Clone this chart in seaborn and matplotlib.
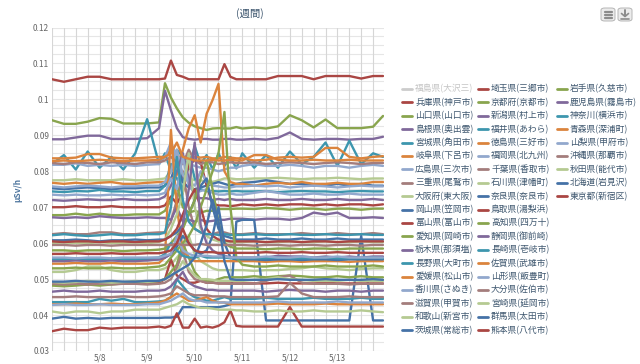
import matplotlib
matplotlib.use("Agg")
import matplotlib.pyplot as plt
import seaborn as sns
import pandas as pd
from matplotlib.lines import Line2D
from matplotlib.patches import FancyBboxPatch

# ---------------- data (values in units of 0.001 uSv/h) ----------------
hours = [0, 6, 12, 18, 24, 30, 36, 42, 48, 54,
         57, 60, 63, 66, 69, 72, 75, 78, 81, 84, 87, 90, 93,
         96, 102, 108, 114, 120, 126, 132, 138, 144, 150, 156, 162, 167]  # hours since 5/7 00:00
day_ticks = [24, 48, 72, 96, 120, 144]
day_labels = ["5/8", "5/9", "5/10", "5/11", "5/12", "5/13"]
y_ticks = [0.03, 0.04, 0.05, 0.06, 0.07, 0.08, 0.09, 0.10, 0.11, 0.12]
y_labels = ["0.03", "0.04", "0.05", "0.06", "0.07", "0.08", "0.09", "0.1", "0.11", "0.12"]

names = ["福島県(大沢三)", "兵庫県(神戸市)", "山口県(山口市)", "島根県(奥出雲)", "宮城県(角田市)",
         "岐阜県(下呂市)", "広島県(三次市)", "三重県(尾鷲市)", "大阪府(東大阪)", "岡山県(笠岡市)",
         "富山県(富山市)", "愛知県(岡崎市)", "栃木県(那須塩)", "長野県(大町市)", "愛媛県(松山市)",
         "香川県(さぬき)", "滋賀県(甲賀市)", "和歌山(新宮市)", "茨城県(常総市)",
         "埼玉県(三郷市)", "京都府(京都市)", "新潟県(村上市)", "福井県(あわら)", "徳島県(三好市)",
         "福岡県(北九州)", "千葉県(香取市)", "石川県(津幡町)", "奈良県(奈良市)", "鳥取県(湯梨浜)",
         "高知県(四万十)", "静岡県(御前崎)", "長崎県(壱岐市)", "佐賀県(武雄市)", "山形県(飯豊町)",
         "大分県(佐伯市)", "宮崎県(延岡市)", "群馬県(太田市)", "熊本県(八代市)",
         "岩手県(久慈市)", "鹿児島県(霧島市)", "神奈川(横浜市)", "青森県(深浦町)", "山梨県(甲府市)",
         "沖縄県(那覇市)", "秋田県(能代市)", "北海道(岩見沢)", "東京都(新宿区)"]
hidden_series = ["福島県(大沢三)"]

fukushima = []
hyogo = [105.6,104.9,105.6,106.3,106.3,105.6,105.6,105.6,105.6,105.6, 105.8,110.8,106.8,106.3,105.6,105.6,105.6,105.6,105.6,105.6,109.8,106.3,105.6, 105.6,105.6,105.6,106.5,106.5,106.5,105.6,106.5,106.5,106.5,105.8,106.5,106.5]
yamaguchi = [94.2,93.2,93.2,93.8,94.8,94.6,93.3,93.3,93.3,93.6, 104.5,100.5,97.5,95.0,93.5,92.5,92.0,91.5,91.9,92.0,91.9,91.9,92.3, 91.9,92.2,91.9,92.5,95.6,94.2,92.2,94.4,92.0,92.0,92.0,92.4,95.4]
shimane = [88.9,88.9,89.4,89.9,89.9,89.0,89.0,89.0,89.2,92.0, 102.4,97.0,92.0,89.5,89.0,88.8,89.0,89.0,88.8,88.8,89.0,89.0,88.8, 88.8,89.0,88.8,89.3,90.8,89.0,88.8,89.0,89.0,88.8,89.0,89.0,89.6]
miyagi = [82.0,84.5,80.5,85.5,81.0,84.0,80.5,85.0,94.5,82.0, 85.0,80.0,86.0,84.0,80.5,87.0,82.0,84.5,80.5,85.0,81.5,84.0,80.8, 85.0,81.0,84.5,81.0,85.5,82.0,84.0,88.0,81.5,88.5,82.0,85.0,84.0]
gifu = [83.6,83.6,83.8,84.8,84.8,83.8,83.6,83.6,83.8,84.0, 84.0,86.0,84.5,83.5,83.6,84.0,83.8,84.0,83.6,83.6,84.0,83.8,83.6, 83.6,83.0,83.2,83.8,84.0,83.8,84.0,86.5,86.5,84.0,83.6,84.0,84.2]
hiroshima = [81.8,81.8,82.2,81.5,81.8,81.5,81.8,81.5,81.8,82.0, 84.0,88.0,84.0,82.5,82.0,81.5,81.0,81.0,80.5,80.0,80.5,81.0,81.0, 81.5,82.0,81.5,81.5,81.8,81.5,81.0,81.5,81.5,81.0,81.5,81.8,81.5]
mie = [62.5,62.8,62.5,62.5,63.0,63.0,62.5,62.5,62.8,63.0, 63.0,66.0,72.0,80.0,70.0,64.0,63.0,62.5,62.5,63.0,63.0,62.5,62.5, 62.5,62.8,62.5,62.5,62.5,62.8,62.5,62.5,62.8,62.5,62.5,62.8,62.5]
osaka = [77.5,77.5,77.8,77.5,77.5,77.5,77.8,77.5,77.5,77.8, 78.0,80.0,84.0,79.0,78.0,77.5,77.5,77.0,77.0,77.5,78.0,78.0,77.8, 77.8,78.0,78.0,78.2,78.0,77.8,78.0,78.0,78.2,78.0,77.8,78.0,78.0]
okayama = [75.3,75.0,75.3,75.5,75.3,75.0,75.3,75.3,75.5,75.5, 76.0,78.0,82.0,77.0,75.5,75.0,75.5,76.0,76.5,77.0,76.5,76.0,76.5, 76.8,77.0,77.5,77.0,76.5,76.5,76.0,76.0,76.5,76.0,76.5,76.0,76.0]
toyama = [70.0,70.0,70.3,70.0,70.0,70.3,70.0,70.0,70.0,70.0, 70.5,73.0,71.0,74.0,82.0,83.0,82.5,76.0,71.0,70.5,70.5,70.3,70.5, 70.8,70.5,70.8,70.5,70.8,70.8,70.5,70.8,70.5,70.8,70.8,70.5,70.8]
aichi = [67.8,67.8,68.2,67.8,68.2,67.8,67.8,68.0,68.0,68.0, 69.0,72.0,76.0,70.0,68.5,69.0,68.5,69.0,69.0,69.5,69.5,69.5,69.6, 69.6,69.5,69.8,69.6,69.3,69.6,69.6,69.3,69.6,69.6,69.3,69.6,69.6]
tochigi = [67.2,67.0,67.2,67.0,67.5,67.2,67.0,67.0,67.2,67.0, 67.0,66.5,70.0,66.0,66.5,66.0,66.5,66.0,66.2,66.5,66.5,66.8,66.8, 66.8,66.5,66.8,66.8,66.5,67.0,68.5,68.0,68.5,67.0,67.0,67.2,67.0]
nagano = [74.4,74.2,74.5,74.4,74.8,74.4,74.4,74.2,74.5,74.5, 76.0,82.0,78.0,75.0,85.0,78.0,75.0,74.5,74.5,74.4,74.5,74.4,74.5, 74.4,74.4,74.5,74.2,74.4,74.5,74.4,74.4,74.2,74.4,74.5,74.4,74.4]
ehime = [76.8,76.5,76.8,76.5,76.8,77.0,76.5,76.5,76.8,77.0, 77.0,77.5,79.0,86.0,92.0,95.6,88.0,96.0,99.8,104.3,80.0,77.0,76.5, 76.5,76.0,76.5,76.8,76.5,77.0,76.5,76.5,76.8,76.5,76.5,77.0,77.0]
kagawa = [75.8,75.5,75.8,76.0,75.8,75.5,75.8,75.8,76.0,76.0, 77.0,80.0,86.0,79.0,77.0,76.0,80.0,77.0,76.0,75.8,75.5,75.5,75.8, 75.8,76.0,75.8,76.0,75.5,75.8,76.0,75.8,75.5,75.8,76.0,75.8,75.8]
shiga = [82.3,82.0,82.5,82.3,82.0,82.5,82.3,82.0,82.5,82.5, 83.0,84.0,82.5,82.0,86.0,83.0,82.0,82.5,82.5,82.0,82.3,82.5,82.3, 82.3,82.5,82.0,82.3,82.5,82.3,82.0,82.3,82.5,82.3,82.0,82.3,82.3]
wakayama = [52.0,52.0,52.5,53.5,53.5,52.5,52.0,52.0,52.5,52.5, 53.0,54.0,56.0,58.0,62.0,57.0,55.0,54.0,53.0,52.5,52.5,52.5,52.5, 52.5,52.3,52.5,52.5,52.8,53.0,53.5,53.0,52.8,52.5,52.8,53.0,53.0]
ibaraki = [39.0,39.5,39.0,39.2,39.0,39.2,39.2,39.2,39.2,39.2, 39.3,39.3,39.5,42.2,42.2,42.2,42.2,42.2,42.2,42.2,42.5,43.0,66.0, 66.5,66.5,38.5,38.5,38.5,38.5,38.5,38.5,38.5,38.5,62.0,38.5,38.5]
saitama = [48.5,48.5,48.8,48.5,49.0,49.0,48.8,48.8,49.0,49.0, 50.0,55.5,51.0,50.0,49.0,49.0,49.5,49.0,49.0,48.8,48.8,48.8,48.8, 48.8,48.8,48.8,49.0,48.8,48.8,48.8,49.0,48.8,48.8,48.8,48.8,48.8]
kyoto = [48.2,48.0,48.2,48.5,48.2,48.5,48.8,49.0,49.2,49.5, 50.0,52.0,54.0,60.0,56.0,52.0,50.0,49.5,49.5,50.0,50.5,50.5,50.5, 50.5,50.8,50.5,50.8,51.0,50.8,50.5,50.5,50.8,50.5,50.8,50.5,50.5]
niigata = [72.0,71.8,72.0,72.2,72.0,72.0,72.3,72.0,72.0,72.2, 73.0,76.0,80.0,85.0,78.0,73.0,72.5,72.5,72.0,72.3,72.0,72.3,72.0, 72.0,72.0,72.3,72.0,72.0,72.3,72.0,72.0,72.3,72.0,72.0,72.3,72.0]
fukui = [43.6,43.6,43.6,43.6,44.5,44.0,44.5,43.6,43.6,43.8, 44.0,45.0,50.0,48.0,46.0,45.0,44.5,44.0,44.0,44.5,45.0,44.5,44.5, 44.5,44.5,44.8,44.5,44.5,44.5,44.8,44.5,44.5,44.5,44.8,44.5,44.5]
tokushima = [54.3,54.3,54.5,54.3,54.3,54.5,54.3,54.3,54.3,54.5, 56.0,91.5,70.0,58.0,56.0,55.0,55.0,55.0,55.0,55.0,55.0,55.0,55.0, 55.0,55.0,54.8,55.0,55.0,54.8,55.0,55.0,55.0,54.8,55.0,55.0,55.0]
fukuoka = [73.5,73.3,73.5,73.3,73.3,73.5,73.3,73.5,73.3,73.5, 74.0,78.0,75.0,84.0,76.0,74.0,74.5,75.0,74.0,73.5,73.5,73.8,73.5, 73.5,74.0,74.5,74.0,73.5,73.5,73.8,73.5,73.5,73.8,73.5,73.5,73.5]
chiba = [48.7,48.5,48.7,48.5,48.7,48.5,48.7,48.7,48.5,48.7, 49.0,50.0,53.0,58.0,52.0,50.0,49.5,49.0,49.0,48.8,48.8,48.7,48.7, 48.7,48.7,49.5,50.5,51.0,49.0,48.7,48.7,48.7,48.5,48.7,48.7,48.7]
ishikawa = [60.0,60.2,60.0,60.0,60.3,60.0,60.0,60.2,60.0,60.3, 61.0,64.0,68.0,74.0,85.0,70.0,64.0,62.0,61.0,60.5,60.5,60.3,60.3, 60.3,60.5,60.3,60.3,60.5,60.3,60.3,60.5,60.3,60.3,60.5,60.3,60.3]
nara = [60.8,60.8,61.0,60.8,60.5,60.8,60.8,61.0,60.8,61.0, 61.0,62.0,63.0,65.0,68.0,72.0,76.0,78.0,70.0,64.0,62.0,61.5,61.0, 61.0,61.0,61.3,61.0,61.0,61.3,61.0,61.0,61.3,61.0,61.0,61.0,61.0]
tottori = [60.5,60.3,60.5,60.5,60.3,60.5,60.5,60.3,60.5,60.5, 61.0,62.0,64.0,68.0,72.0,75.0,70.0,64.0,62.0,61.0,60.8,60.5,60.5, 60.5,60.5,60.3,60.5,60.5,60.3,60.5,60.5,60.3,60.5,60.5,60.5,60.5]
kochi = [58.0,58.0,57.8,58.0,58.0,58.0,57.8,58.0,58.0,58.2, 58.5,60.0,62.0,64.0,68.0,72.0,78.0,83.0,75.0,66.0,60.0,59.0,58.5, 58.5,58.5,58.3,58.5,58.5,58.3,58.5,58.5,58.3,58.5,58.5,58.5,58.5]
shizuoka = [46.5,46.8,46.5,46.5,46.8,46.5,46.5,46.5,46.8,46.8, 47.0,48.0,50.0,52.0,49.0,48.0,47.5,47.0,47.0,46.8,46.8,46.8,46.8, 46.8,46.8,46.5,46.8,47.0,46.8,46.8,46.5,46.8,46.8,46.5,46.8,46.8]
nagasaki = [62.2,62.5,62.2,62.0,62.2,62.5,62.2,62.2,62.5,62.5, 63.0,70.0,84.0,72.0,66.0,64.0,63.0,62.5,62.5,62.3,62.5,62.3,62.3, 62.3,62.5,62.3,62.3,62.5,62.3,62.3,62.5,62.3,62.3,62.5,62.3,62.3]
saga = [43.0,43.0,43.2,43.0,43.0,43.2,43.0,43.0,43.2,43.5, 44.0,45.0,46.0,45.0,44.0,44.0,44.5,45.0,44.0,43.5,43.5,43.0,43.0, 43.0,43.0,43.0,43.2,43.0,43.0,43.0,43.2,43.0,43.0,43.0,43.0,43.0]
yamagata = [42.8,43.0,42.8,42.8,43.0,42.8,42.8,42.8,43.0,43.0, 43.5,44.0,45.0,46.0,44.5,44.0,44.0,43.5,43.5,43.5,43.5,43.5,43.5, 43.5,43.5,43.5,43.8,43.5,43.5,43.5,43.5,43.8,43.5,43.5,43.5,43.5]
oita = [45.0,45.0,45.2,45.0,45.0,45.0,45.2,45.0,45.0,45.2, 45.5,46.0,48.0,47.0,46.0,45.5,45.5,45.5,45.2,45.2,45.2,45.0,45.0, 45.0,45.0,45.0,45.2,49.0,46.0,45.0,45.0,45.0,45.2,45.0,45.0,45.0]
miyazaki = [49.2,49.0,49.2,49.5,49.2,49.0,49.2,49.5,49.2,49.5, 50.0,51.0,52.0,55.0,53.0,51.0,50.0,50.0,49.8,49.5,49.5,49.5,49.5, 49.5,49.8,50.0,50.5,50.0,49.8,49.5,49.5,49.5,49.8,49.5,49.5,49.5]
gunma = [55.3,55.3,55.5,55.3,55.3,55.5,55.3,55.5,55.3,55.5, 56.0,57.0,59.0,62.0,60.0,58.0,57.0,58.0,62.0,70.0,60.0,56.0,55.5, 55.5,55.5,55.3,55.5,55.5,55.3,55.5,55.5,55.3,55.5,55.5,55.5,55.5]
kumamoto = [35.5,36.2,35.8,35.8,36.5,36.2,36.5,36.5,36.5,36.8, 36.5,37.0,40.5,36.5,36.5,39.0,36.5,36.8,36.5,37.0,38.0,41.3,37.0, 36.8,36.8,36.8,36.8,42.2,36.8,36.8,36.8,36.8,36.8,36.8,36.8,36.8]
iwate = [53.0,53.0,53.2,53.0,53.0,53.2,53.0,53.0,53.2,53.5, 54.0,56.0,58.0,60.0,62.0,65.0,70.0,75.0,80.0,85.0,96.5,70.0,56.0, 54.0,53.5,53.5,53.8,53.5,53.5,53.5,53.8,53.5,53.5,53.5,53.8,53.5]
kagoshima = [55.0,55.0,55.2,55.0,55.0,55.2,55.0,55.0,55.2,55.5, 56.0,57.0,60.0,65.0,75.0,88.0,65.0,60.0,58.0,57.0,56.5,56.0,56.0, 56.0,56.0,56.0,56.5,56.3,56.3,56.0,56.3,56.0,56.3,56.0,56.3,56.3]
kanagawa = [55.6,55.6,55.8,55.6,55.6,55.8,55.6,55.6,55.8,56.0, 57.0,60.0,58.0,56.5,56.0,56.0,56.5,56.0,56.0,56.0,56.0,55.8,55.8, 55.8,55.8,55.8,56.0,55.8,55.8,55.8,56.0,55.8,55.8,55.8,56.0,55.8]
aomori = [82.8,83.0,82.8,83.0,83.2,83.0,82.8,83.0,83.0,83.2, 84.0,85.0,88.0,84.0,83.5,83.0,83.0,83.0,83.2,83.0,83.0,83.2,83.0, 83.0,84.5,84.5,83.2,83.0,83.0,83.2,83.0,83.0,83.2,83.0,83.0,83.0]
yamanashi = [56.0,56.0,55.8,56.0,56.0,55.8,56.0,56.0,56.0,56.0, 56.5,57.0,62.0,58.0,57.0,56.5,56.5,56.5,56.3,56.3,56.3,56.0,56.0, 56.0,56.0,56.3,56.0,56.0,56.3,56.0,56.0,56.3,56.0,56.0,56.0,56.0]
okinawa = [59.5,59.5,59.3,59.5,59.5,59.3,59.5,59.5,59.5,59.5, 59.5,59.5,59.8,59.5,59.5,59.5,59.8,59.5,59.5,59.5,59.5,59.5,59.5, 59.5,59.3,59.5,59.5,59.3,59.5,59.5,59.3,59.5,59.5,59.3,59.5,59.5]
akita = [41.0,40.5,41.0,41.0,40.5,41.0,41.0,41.5,41.5,41.5, 42.0,42.5,43.0,44.0,43.0,42.5,42.0,42.0,41.8,41.5,41.5,41.5,41.3, 41.3,41.0,41.0,41.3,41.0,41.0,41.3,41.0,41.0,41.0,41.3,41.0,40.8]
hokkaido = [49.3,49.3,49.5,49.3,49.3,49.5,49.3,49.3,49.5,49.5, 50.0,51.0,52.0,53.0,54.0,56.0,60.0,65.0,72.0,66.0,55.0,50.0,49.8, 49.8,49.8,49.8,50.0,49.8,49.8,49.8,50.0,49.8,49.8,49.8,50.0,49.8]
tokyo = [57.0,57.0,57.2,57.0,57.0,57.2,57.0,57.0,57.2,57.2, 57.5,58.0,60.0,64.0,60.0,58.0,57.5,57.5,57.5,57.3,57.3,57.3,57.3, 57.3,57.3,57.5,57.3,57.3,57.5,57.3,57.3,57.5,57.3,57.3,57.3,57.3]

series_values = [fukushima, hyogo, yamaguchi, shimane, miyagi, gifu, hiroshima, mie, osaka, okayama,
                 toyama, aichi, tochigi, nagano, ehime, kagawa, shiga, wakayama, ibaraki,
                 saitama, kyoto, niigata, fukui, tokushima, fukuoka, chiba, ishikawa, nara, tottori,
                 kochi, shizuoka, nagasaki, saga, yamagata, oita, miyazaki, gunma, kumamoto,
                 iwate, kagoshima, kanagawa, aomori, yamanashi, okinawa, akita, hokkaido, tokyo]

# ---------------- styling ----------------
base_colors = ["#4572A7", "#AA4643", "#89A54E", "#80699B", "#3D96AE",
               "#DB843D", "#92A8CD", "#A47D7C", "#B5CA92"]
colors = {n: base_colors[i % len(base_colors)] for i, n in enumerate(names)}

rows = []
for n, vals in zip(names, series_values):
    if n in hidden_series:
        continue
    for h, v in zip(hours, vals):
        rows.append({"hour": h, "site": n, "value": v / 1000.0})
df = pd.DataFrame(rows)
visible = [n for n in names if n not in hidden_series]

sns.set_style("white")
plt.rcParams["font.family"] = ["Noto Sans CJK JP", "DejaVu Sans"]

W, H = 640, 364
fig = plt.figure(figsize=(W / 100, H / 100), dpi=100)
L, R, T, B = 52, 384, 27.5, 351
ax = fig.add_axes([L / W, 1 - B / H, (R - L) / W, (B - T) / H])

# grid
for yv in [0.03 + 0.0025 * k for k in range(37)]:
    ax.axhline(yv, color="#e6e6e6", lw=0.8, zorder=0)
for hv in range(0, 169, 6):
    ax.axvline(hv, color="#d6d6d6", lw=0.8, zorder=0)

sns.lineplot(data=df, x="hour", y="value", hue="site", hue_order=visible,
             palette=colors, estimator=None, sort=False, legend=False,
             linewidth=1.7, ax=ax)

ax.set_xlim(0, 167.5)
ax.set_ylim(0.03, 0.12)
ax.set_xticks(day_ticks)
ax.set_xticklabels(day_labels)
ax.set_yticks(y_ticks)
ax.set_yticklabels(y_labels)
ax.tick_params(axis="both", length=0, labelsize=6, colors="#666666", pad=2)
ax.tick_params(axis="x", pad=1.5)
ax.set_xlabel("")
ax.set_ylabel("")
for s in ax.spines.values():
    s.set_visible(False)

fig.text(18 / W, 1 - 190 / H, "μSv/h", rotation=90, ha="center", va="center",
         fontsize=6, color="#4d759e", fontweight="bold")
fig.text(250 / W, 1 - 14 / H, "(週間)", ha="center", va="center",
         fontsize=7.5, color="#3E576F")

# legend (three columns, column-major like the original)
col_x = [402, 478, 557]
for i, n in enumerate(names):
    col, row = divmod(i, 19)
    x0 = col_x[col]
    y = 89 + 13.4 * row
    hid = n in hidden_series
    c = "#cccccc" if hid else colors[n]
    fig.add_artist(Line2D([x0 / W, (x0 + 10) / W], [1 - y / H, 1 - y / H],
                          transform=fig.transFigure, color=c, lw=2))
    fig.text((x0 + 13) / W, 1 - y / H, n, ha="left", va="center", fontsize=6.3,
             color="#c4c4c4" if hid else "#3E576F")

# export buttons (top right)
for bx in [601, 618]:
    fig.add_artist(FancyBboxPatch((bx / W, 1 - 21 / H), 14 / W, 13 / H,
                                  boxstyle="round,pad=0,rounding_size=0.006",
                                  transform=fig.transFigure, facecolor="#ececec",
                                  edgecolor="#b5b5b5", lw=0.7))
for yy in [11.5, 14.5, 17.5]:
    fig.add_artist(Line2D([604.5 / W, 611.5 / W], [1 - yy / H] * 2,
                          transform=fig.transFigure, color="#8c8c8c", lw=1.6))
fig.add_artist(Line2D([625 / W, 625 / W], [1 - 10 / H, 1 - 16 / H],
                      transform=fig.transFigure, color="#8c8c8c", lw=1.4))
fig.add_artist(Line2D([621.5 / W, 625 / W, 628.5 / W], [1 - 13.5 / H, 1 - 16.5 / H, 1 - 13.5 / H],
                      transform=fig.transFigure, color="#8c8c8c", lw=1.2))
fig.add_artist(Line2D([621 / W, 629 / W], [1 - 18.5 / H] * 2,
                      transform=fig.transFigure, color="#8c8c8c", lw=1.2))

fig.savefig("out.png", dpi=100)
